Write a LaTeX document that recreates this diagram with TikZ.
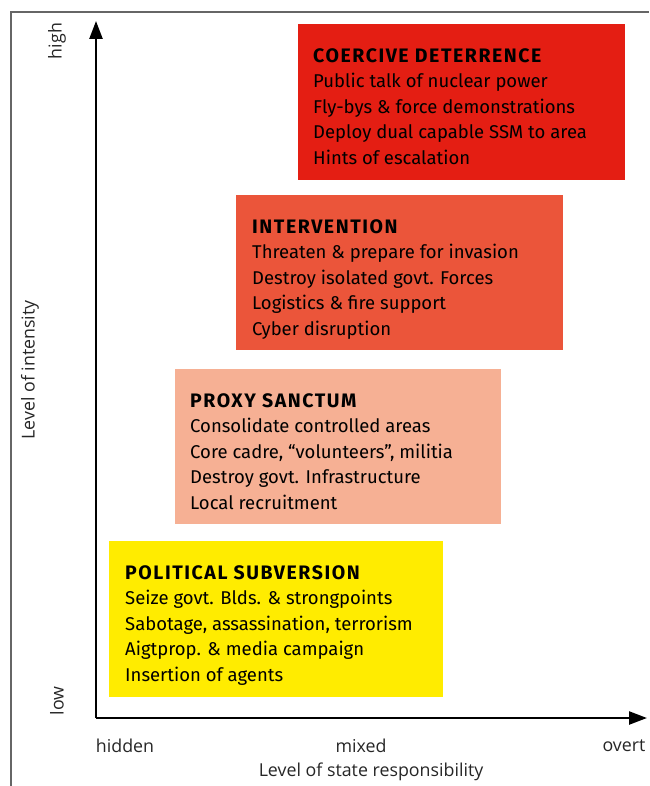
\documentclass[tikz,border=0pt]{standalone}
\usepackage{fontspec}
\setmainfont{Open Sans}
\newfontfamily\boxfont{Fira Sans}
\newfontfamily\titlefont[LetterSpace=8]{Fira Sans Bold}
\usetikzlibrary{arrows.meta}
\definecolor{cred}{HTML}{E41E13}
\definecolor{corange}{HTML}{EB553A}
\definecolor{csalmon}{HTML}{F6B094}
\definecolor{cyellow}{HTML}{FFEC00}
\newcommand{\stitle}[1]{{\titlefont\fontsize{19.5}{25.6}\selectfont #1}}
\tikzset{
  stagebox/.style={draw=none, anchor=north west, inner sep=0pt},
  stagetext/.style={anchor=north west, inner sep=0pt, align=left,
    font=\boxfont\fontsize{18.5}{25.6}\selectfont, text=black},
  axis/.style={line width=2.4pt, -{Triangle[length=18pt,width=13pt]}},
  axlabel/.style={font=\fontsize{17.8}{20}\selectfont, text=black!85, inner sep=0pt},
}
\begin{document}
\begin{tikzpicture}[x=1pt,y=-1pt]
\useasboundingbox (0,0) rectangle (649,786);
\draw[gray!80!black, line width=1.2pt] (11,786) -- (11,12) -- (649,12);
% boxes
\node[stagebox, fill=cred, minimum width=327pt, minimum height=156pt] (cd) at (298,24) {};
\node[stagebox, fill=corange, minimum width=327pt, minimum height=155pt] (iv) at (236,195) {};
\node[stagebox, fill=csalmon, minimum width=326pt, minimum height=155pt] (ps) at (175,369) {};
\node[stagebox, fill=cyellow, minimum width=334pt, minimum height=156pt] (pol) at (109,541) {};
% texts
\node[stagetext] (cdt) at (313,48) {\stitle{COERCIVE DETERRENCE}\\Public talk of nuclear power\\Fly-bys \& force demonstrations\\Deploy dual capable SSM to area\\Hints of escalation};
\node[stagetext] (ivt) at (252,219) {\stitle{INTERVENTION}\\Threaten \& prepare for invasion\\Destroy isolated govt. Forces\\Logistics \& fire support\\Cyber disruption};
\node[stagetext] (pst) at (190,393) {\stitle{PROXY SANCTUM}\\Consolidate controlled areas\\Core cadre, “volunteers”, militia\\Destroy govt. Infrastructure\\Local recruitment};
\node[stagetext] (polt) at (125,565) {\stitle{POLITICAL SUBVERSION}\\Seize govt. Blds. \& strongpoints\\Sabotage, assassination, terrorism\\Aigtprop. \& media campaign\\Insertion of agents};
% axes
\coordinate (o) at (96,718);
\coordinate (ytop) at (96,21);
\coordinate (xend) at (647,718);
\draw[axis] (o) -- (ytop);
\draw[axis] (o) -- (xend);
% axis labels
\node[axlabel, rotate=90] (high) at (57,41) {high};
\node[axlabel, rotate=90] (low) at (57,701) {low};
\node[axlabel, rotate=90] (yl) at (30,370) {Level of intensity};
\node[axlabel] (hidden) at (125,746) {hidden};
\node[axlabel] (mixed) at (361,746) {mixed};
\node[axlabel] (overt) at (624,746) {overt};
\node[axlabel] (xl) at (371,772) {Level of state responsibility};
\end{tikzpicture}
\end{document}
